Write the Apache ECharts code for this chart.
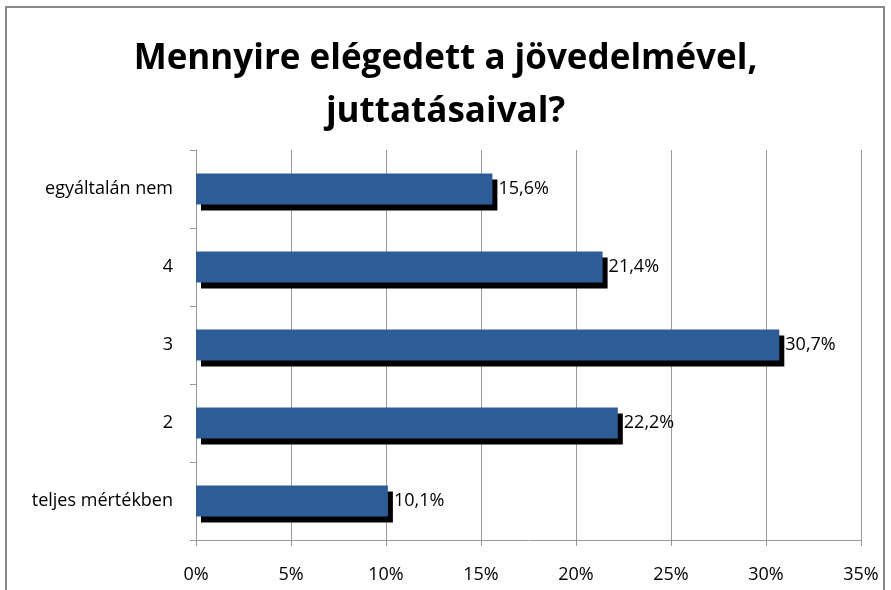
<!DOCTYPE html>
<html lang="hu">
  <head>
    <meta charset="UTF-8" />
    <title>Mennyire elégedett a jövedelmével, juttatásaival?</title>
    <style>
      html, body { margin: 0; padding: 0; background: #fff; }
      #chart { width: 891px; height: 590px; }
    </style>
  </head>
  <body>
    <div id="chart"></div>
    <script src="https://cdn.jsdelivr.net/npm/echarts@6/dist/echarts.min.js"></script>
    <script>
      // kategóriák alulról felfelé
      var categories = ["teljes mértékben", "2", "3", "4", "egyáltalán nem"];
      var values = [10.1, 22.2, 30.7, 21.4, 15.6];
      var tickMax = 35;
      var tickStep = 5;

      var myChart = echarts.init(document.getElementById("chart"));
      var font = "'Open Sans', 'DejaVu Sans', sans-serif";

      var option = {
        backgroundColor: "#fff",
        animation: false,
        graphic: [
          {
            type: "rect",
            shape: { x: 6, y: 7, width: 878, height: 600 },
            style: { fill: "none", stroke: "#888", lineWidth: 2 },
          },
        ],
        title: {
          text: "Mennyire elégedett a jövedelmével,\njuttatásaival?",
          left: "center",
          top: 28,
          textStyle: {
            fontFamily: font,
            fontWeight: "bold",
            fontSize: 35,
            lineHeight: 53,
            color: "#000",
          },
        },
        grid: { left: 196, right: 30, top: 150, bottom: 50 },
        xAxis: {
          type: "value",
          min: 0,
          max: tickMax,
          interval: tickStep,
          axisLine: { show: true, lineStyle: { color: "#999", width: 1 } },
          axisTick: { show: true, length: 6, lineStyle: { color: "#999" } },
          splitLine: { show: true, lineStyle: { color: "#999", width: 1 } },
          axisLabel: {
            formatter: "{value}%",
            fontFamily: font,
            fontSize: 18,
            color: "#000",
            margin: 26,
          },
        },
        yAxis: {
          type: "category",
          data: categories,
          axisLine: { show: true, lineStyle: { color: "#999", width: 1 } },
          axisTick: { show: true, length: 6, lineStyle: { color: "#999" } },
          axisLabel: {
            fontFamily: font,
            fontSize: 18,
            color: "#000",
            margin: 23,
          },
        },
        series: [
          {
            type: "bar",
            data: values,
            barWidth: "40%",
            itemStyle: {
              color: "#2e5c96",
              shadowColor: "#000",
              shadowBlur: 0,
              shadowOffsetX: 5,
              shadowOffsetY: 6,
            },
            label: {
              show: true,
              position: "right",
              distance: 6,
              fontFamily: font,
              fontSize: 18,
              color: "#000",
              formatter: function (p) {
                return p.value.toFixed(1).replace(".", ",") + "%";
              },
            },
          },
        ],
      };

      myChart.setOption(option);
    </script>
  </body>
</html>
